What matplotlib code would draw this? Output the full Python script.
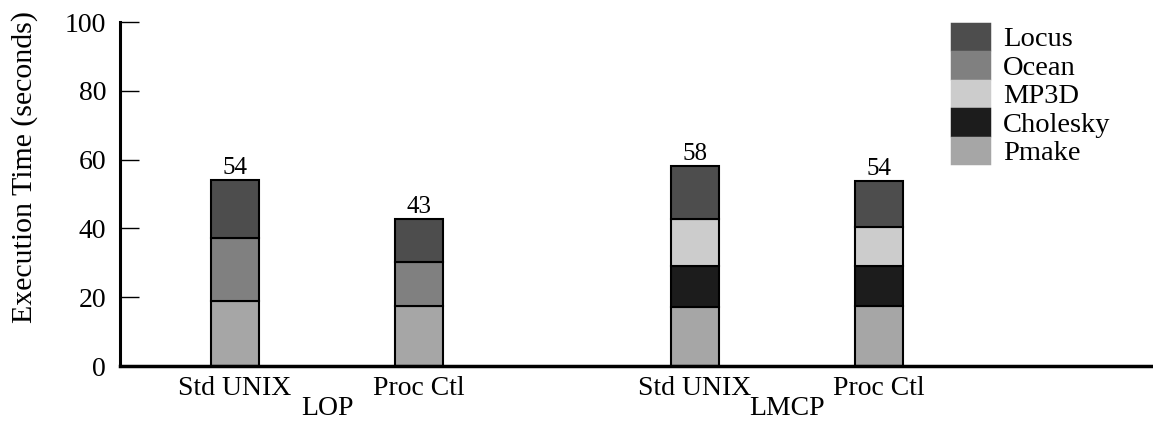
import numpy as np
import matplotlib.pyplot as plt
from matplotlib.patches import Patch

plt.rcParams['font.family'] = ['Liberation Serif', 'DejaVu Serif']

# data
configs = ['Std UNIX', 'Proc Ctl', 'Std UNIX', 'Proc Ctl']
groups = ['LOP', 'LMCP']
pmake = [18.9, 17.5, 17.2, 17.5]
cholesky = [0, 0, 12.0, 11.6]
mp3d = [0, 0, 13.5, 11.4]
ocean = [18.4, 12.7, 0, 0]
locus = [16.8, 12.6, 15.5, 13.4]
totals = ['54', '43', '58', '54']

series = [('Pmake', pmake, '#a6a6a6'),
          ('Cholesky', cholesky, '#1c1c1c'),
          ('MP3D', mp3d, '#cccccc'),
          ('Ocean', ocean, '#808080'),
          ('Locus', locus, '#4d4d4d')]

x = np.array([0, 1, 2.5, 3.5])
width = 0.26

fig = plt.figure(figsize=(11.53, 4.26), dpi=100)
ax = fig.add_axes([0.1041, 0.1408, 0.8942, 0.8075])

bottom = np.zeros(len(x))
for name, vals, col in series:
    vals = np.array(vals, dtype=float)
    m = vals > 0
    ax.bar(x[m], vals[m], width, bottom=bottom[m], color=col,
           edgecolor='black', linewidth=1.5)
    bottom += vals

for xi, top, lab in zip(x, bottom, totals):
    ax.text(xi, top + 0.2, lab, ha='center', va='bottom', fontsize=18)

ax.set_ylim(0, 100)
ax.set_xlim(-0.625, 4.98)
ax.set_yticks([0, 20, 40, 60, 80, 100])
ax.tick_params(axis='y', direction='in', length=14, width=1, labelsize=20, pad=10)
ax.tick_params(axis='x', length=0, labelsize=20, pad=7)
ax.set_xticks(x)
ax.set_xticklabels(configs)

for s in ['top', 'right']:
    ax.spines[s].set_visible(False)
ax.spines['left'].set_linewidth(2.2)
ax.spines['bottom'].set_linewidth(2.5)

ax.set_ylabel('Execution Time (seconds)', fontsize=21.5)
ax.yaxis.set_label_coords(-0.080, 0.58)

# group labels
for gx, g in zip([x[0:2].mean(), x[2:4].mean()], groups):
    ax.text(gx, -0.142, g, transform=ax.get_xaxis_transform(),
            ha='center', va='baseline', fontsize=20)

# legend boxes touch each other, edge in the same colour closes the gaps
handles = [Patch(facecolor=col, edgecolor=col, linewidth=2.5, label=name)
           for name, vals, col in series[::-1]]
ax.legend(handles=handles, loc='upper left', bbox_to_anchor=(0.807, 0.995),
          frameon=False, fontsize=20.5, handlelength=1.3, handleheight=1.0,
          labelspacing=0.0, handletextpad=0.5, borderpad=0.0, borderaxespad=0.0)

fig.savefig('out.png', dpi=100)
